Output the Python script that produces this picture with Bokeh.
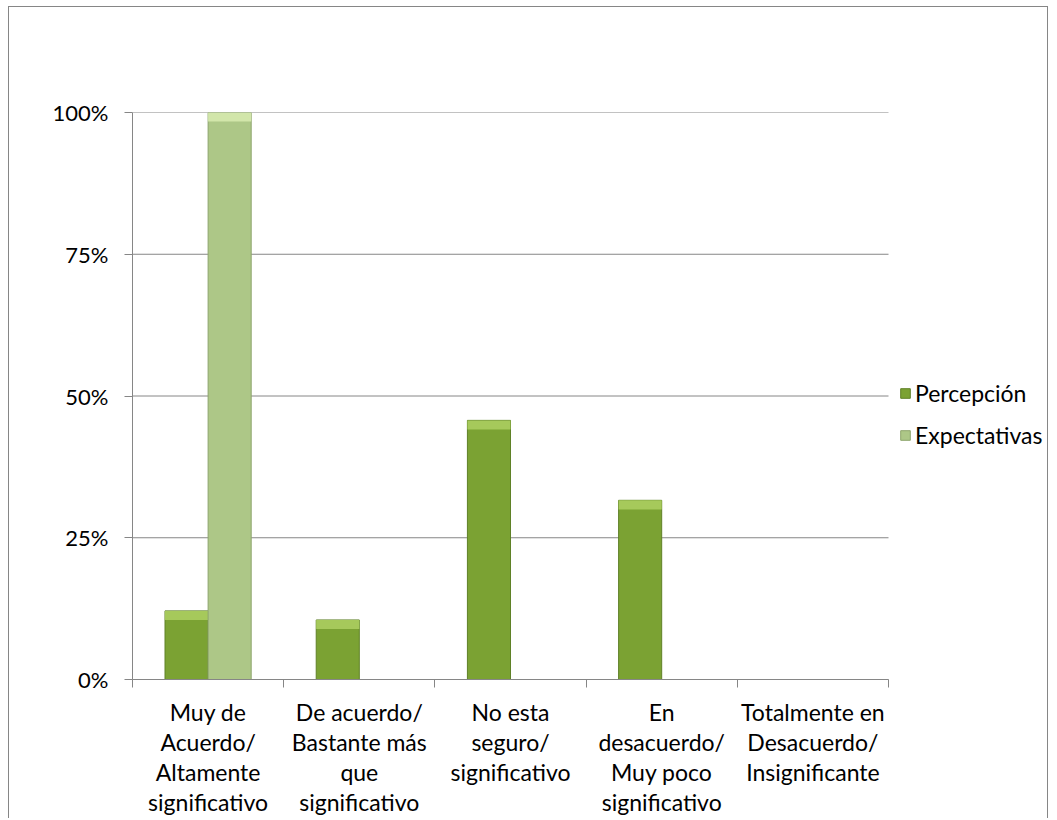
from bokeh.plotting import figure
from bokeh.models import (ColumnDataSource, Range1d, FixedTicker, Legend, LegendItem)
from bokeh.transform import dodge
from bokeh.embed import file_html
from bokeh.resources import INLINE

categories = [
    "Muy de\nAcuerdo/\nAltamente\nsignificativo",
    "De acuerdo/\nBastante más\nque\nsignificativo",
    "No esta\nseguro/\nsignificativo",
    "En\ndesacuerdo/\nMuy poco\nsignificativo",
    "Totalmente en\nDesacuerdo/\nInsignificante",
]
percepcion = [12.1, 10.5, 45.7, 31.6, 0.0]
expectativas = [100.0, 0.0, 0.0, 0.0, 0.0]
y_ticks = [0, 25, 50, 75, 100]
y_tick_labels = ["0%", "25%", "50%", "75%", "100%"]

FONT = "Lato"
GRID = "#868686"
C_PER = "#7ba233"
C_PER_TOP = "#a6c95b"
C_EXP = "#adc787"
C_EXP_TOP = "#d2e6aa"

n = len(categories)
centers = [i + 0.5 for i in range(n)]
bevel = 1.6  # top bevel depth in % units
src = ColumnDataSource(dict(
    x=centers,
    per=percepcion,
    exp=expectativas,
    per_b=[max(v - bevel, 0) if v > 0 else 0 for v in percepcion],
    exp_b=[max(v - bevel, 0) if v > 0 else 0 for v in expectativas],
))

W_FIG, H_FIG = 1040, 812
B_L, B_T, B_R, B_B = 123, 105, 0, 138
PLOT_W = 756  # pixel width of the category area
frame_w = W_FIG - B_L - B_R
x_end = n * frame_w / PLOT_W

p = figure(width=W_FIG, height=H_FIG, output_backend="svg", toolbar_location=None,
           x_range=Range1d(0, x_end), y_range=Range1d(0, 100),
           min_border_left=B_L, min_border_top=B_T, min_border_right=B_R,
           min_border_bottom=B_B)
p.styles = {"border-left": "1px solid #868686", "border-top": "1px solid #868686",
            "border-right": "1px solid #868686",
            "margin-left": "8px", "margin-top": "6px"}
p.outline_line_color = None
p.background_fill_color = "white"
p.border_fill_color = "white"

# horizontal gridlines limited to the category area
p.segment(x0=0, x1=n, y0=y_ticks, y1=y_ticks, line_color=GRID, line_width=1)

W = 0.285
off = W / 2
r1 = p.vbar(x=dodge("x", -off), top="per", width=W, source=src,
            fill_color=C_PER, line_color="#5f8127", line_width=1)
p.vbar(x=dodge("x", -off), top="per", bottom="per_b", width=W, source=src,
       fill_color=C_PER_TOP, line_color=None)
r2 = p.vbar(x=dodge("x", off), top="exp", width=W, source=src,
            fill_color=C_EXP, line_color="#8ea56d", line_width=1)
p.vbar(x=dodge("x", off), top="exp", bottom="exp_b", width=W, source=src,
       fill_color=C_EXP_TOP, line_color=None)

# axes
xa = p.xaxis[0]
xa.bounds = (0, n)
xa.ticker = FixedTicker(ticks=centers, minor_ticks=list(range(n + 1)))
xa.major_label_overrides = {c: lab for c, lab in zip(centers, categories)}
xa.major_tick_line_color = None
xa.minor_tick_out = 8
xa.minor_tick_in = 0
xa.minor_tick_line_color = GRID
xa.axis_line_color = GRID
xa.major_label_text_font = FONT
xa.major_label_text_font_size = "23px"
xa.major_label_text_color = "#000000"
xa.major_label_text_line_height = 1.08
xa.major_label_standoff = 10

ya = p.yaxis[0]
ya.ticker = FixedTicker(ticks=y_ticks)
ya.major_label_overrides = {t: l for t, l in zip(y_ticks, y_tick_labels)}
ya.major_tick_out = 8
ya.major_tick_in = 0
ya.major_tick_line_color = GRID
ya.minor_tick_line_color = None
ya.axis_line_color = GRID
ya.major_label_text_font = FONT
ya.major_label_text_font_size = "22px"
ya.major_label_text_color = "#000000"
ya.major_label_standoff = 16

p.xgrid.grid_line_color = None
p.ygrid.grid_line_color = None

legend = Legend(items=[LegendItem(label="Percepción", renderers=[r1]),
                       LegendItem(label="Expectativas", renderers=[r2])],
                location=(767, 229), orientation="vertical",
                glyph_width=12, glyph_height=12, label_height=30, spacing=12,
                label_standoff=4, padding=0, margin=0,
                border_line_color=None, background_fill_alpha=0,
                label_text_font=FONT, label_text_font_size="23px",
                label_text_color="#000000")
p.add_layout(legend)

open("out.html", "w").write(file_html(p, INLINE))
